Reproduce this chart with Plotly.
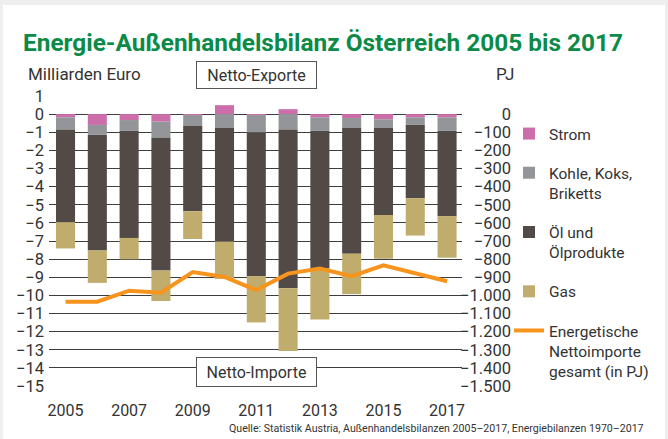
import plotly.graph_objects as go

years = list(range(2005, 2018))
strom = [-0.18, -0.60, -0.33, -0.42, -0.05, 0.49, -0.05, 0.27, -0.18, -0.22, -0.29, -0.18, -0.18]
kohle = [-0.69, -0.55, -0.60, -0.89, -0.61, -0.77, -0.97, -0.85, -0.75, -0.55, -0.48, -0.42, -0.75]
oel = [-5.09, -6.37, -5.90, -7.32, -4.70, -6.26, -7.92, -8.75, -7.59, -6.93, -4.79, -4.04, -4.70]
gas = [-1.45, -1.79, -1.18, -1.68, -1.53, -2.06, -2.55, -3.46, -2.81, -2.23, -2.42, -2.06, -2.29]
netto_pj = [-1035, -1035, -974, -985, -871, -898, -971, -880, -852, -894, -834, -878, -922]

left_ticks = list(range(-15, 2))
right_ticks = list(range(-1500, 1, 100))
x_ticks = [2005, 2007, 2009, 2011, 2013, 2015, 2017]

FONT = "Roboto, Arial, sans-serif"
TXT = "#333333"
GRID = "#3d3d3d"

# plot area geometry (px)
W, H = 668, 439
ML, MR, MT, MB = 49, 148, 95, 52
PW = W - ML - MR
PH = H - MT - MB


def px_x(p):
    return (p - ML) / PW


def px_y(p):
    return 1 - (p - MT) / PH


fig = go.Figure()
series = [
    ("Strom", strom, "#cc6eaa"),
    ("Kohle, Koks,<br>Briketts", kohle, "#939598"),
    ("Öl und<br>Ölprodukte", oel, "#514a46"),
    ("Gas", gas, "#c0ad6e"),
]
for i, (name, vals, col) in enumerate(series):
    fig.add_trace(go.Bar(
        x=years, y=vals, name=name, marker=dict(color=col, line=dict(width=0)),
        width=0.6, legendgroup=f"g{i}", legendrank=i + 1,
    ))
fig.add_trace(go.Scatter(
    x=years, y=netto_pj, yaxis="y2", mode="lines",
    name="Energetische<br>Nettoimporte<br>gesamt (in PJ)",
    line=dict(color="#f7941d", width=4), legendgroup="g5", legendrank=5,
))

fig.update_layout(
    width=W, height=H,
    margin=dict(l=ML, r=MR, t=MT, b=MB),
    paper_bgcolor="#eeeeee", plot_bgcolor="white",
    barmode="relative", bargap=0.4,
    separators=",.",
    font=dict(family=FONT, color=TXT, size=15),
    showlegend=True,
    legend=dict(
        x=px_x(509), y=px_y(117), xanchor="left", yanchor="top",
        font=dict(size=15.5, color=TXT), traceorder="grouped",
        tracegroupgap=16, valign="top", bgcolor="rgba(0,0,0,0)",
    ),
    xaxis=dict(
        domain=[0, (462 - ML) / PW], range=[2004.48, 2017.47],
        tickvals=x_ticks, showgrid=False, zeroline=False,
        showline=False, ticks="", ticklabelstandoff=12,
        tickfont=dict(size=16, color=TXT),
    ),
    yaxis=dict(
        range=[-15.05, 1.05], tickvals=left_ticks, showgrid=True,
        gridcolor=GRID, gridwidth=1.3, zeroline=True, zerolinecolor=GRID,
        zerolinewidth=1.3, ticks="", tickfont=dict(size=16.5, color=TXT),
        ticklabelstandoff=4,
    ),
    yaxis2=dict(
        overlaying="y", side="left", anchor="free", position=px_x(511),
        range=[-1505, 105], tickvals=right_ticks, tickformat=",d",
        showgrid=False, zeroline=False, ticks="", showline=False,
        tickfont=dict(size=16.5, color=TXT),
    ),
    shapes=[
        dict(type="rect", xref="paper", yref="paper", layer="below",
             x0=px_x(3), x1=px_x(665), y0=px_y(439), y1=px_y(5),
             fillcolor="white", line=dict(width=0)),
    ],
    annotations=[
        dict(text="<b>Energie-Außenhandelsbilanz Österreich 2005 bis 2017</b>",
             xref="paper", yref="paper", x=px_x(21), y=px_y(42),
             xanchor="left", yanchor="middle", showarrow=False,
             font=dict(size=24.4, color="#0b8a48", family=FONT)),
        dict(text="Milliarden Euro", xref="paper", yref="paper",
             x=px_x(26), y=px_y(74), xanchor="left", yanchor="middle",
             showarrow=False, font=dict(size=17, color=TXT)),
        dict(text="PJ", xref="paper", yref="paper",
             x=px_x(494), y=px_y(74), xanchor="left", yanchor="middle",
             showarrow=False, font=dict(size=17, color=TXT)),
        dict(text="Netto-Exporte", xref="x", yref="paper",
             x=2011, y=px_y(75), xanchor="center", yanchor="middle",
             showarrow=False, width=117, height=24, bgcolor="white",
             bordercolor="#555555", borderwidth=1, borderpad=1,
             font=dict(size=16, color=TXT)),
        dict(text="Netto-Importe", xref="x", yref="paper",
             x=2011, y=px_y(371.5), xanchor="center", yanchor="middle",
             showarrow=False, width=117, height=26, bgcolor="white",
             bordercolor="#555555", borderwidth=1, borderpad=1,
             font=dict(size=16, color=TXT)),
        dict(text="Quelle: Statistik Austria, Außenhandelsbilanzen 2005–2017, Energiebilanzen 1970–2017",
             xref="paper", yref="paper", x=px_x(646), y=px_y(428),
             xanchor="right", yanchor="middle", showarrow=False,
             font=dict(size=10.6, color=TXT)),
    ],
)

fig.write_html("out.html", config={"displayModeBar": False},
               post_script="document.body.style.margin='0';")
